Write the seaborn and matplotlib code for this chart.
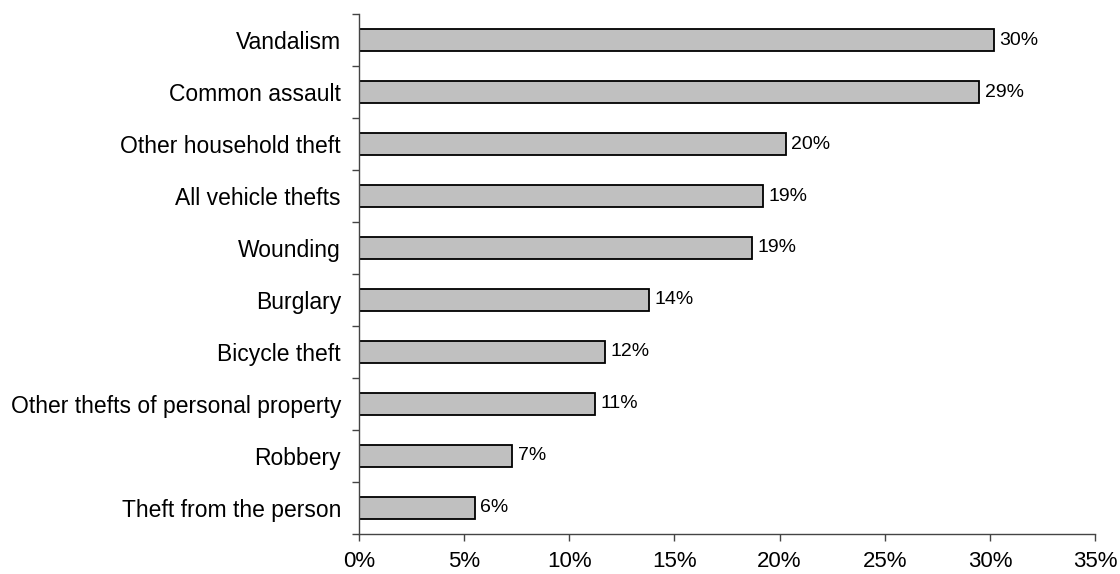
import numpy as np
import pandas as pd
import seaborn as sns
import matplotlib
matplotlib.use("Agg")
import matplotlib.pyplot as plt

categories = ["Vandalism", "Common assault", "Other household theft", "All vehicle thefts",
              "Wounding", "Burglary", "Bicycle theft", "Other thefts of personal property",
              "Robbery", "Theft from the person"]
values = [30.2, 29.5, 20.3, 19.2, 18.7, 13.8, 11.7, 11.2, 7.3, 5.5]
value_labels = ["30%", "29%", "20%", "19%", "19%", "14%", "12%", "11%", "7%", "6%"]
x_ticks = [0, 5, 10, 15, 20, 25, 30, 35]
x_tick_labels = ["0%", "5%", "10%", "15%", "20%", "25%", "30%", "35%"]

sns.set_theme(style="white")
plt.rcParams['font.family'] = ['Liberation Sans', 'DejaVu Sans']

df = pd.DataFrame({"category": categories, "value": values})

fig, ax = plt.subplots(figsize=(11.2, 5.74), dpi=100)
fig.subplots_adjust(left=0.3205, right=0.9777, bottom=0.0697, top=0.9756)

sns.barplot(data=df, x="value", y="category", orient="h", color="#c0c0c0",
            saturation=1, edgecolor="black", linewidth=1.3, width=0.42, ax=ax)

ax.bar_label(ax.containers[0], labels=value_labels, padding=4, fontsize=14, color="black")

ax.set_xlim(0, 35)
ax.set_ylim(9.5, -0.5)
ax.set_xticks(x_ticks)
ax.set_xticklabels(x_tick_labels, fontsize=16, color="black")
ax.set_yticks(range(len(categories)))
ax.set_yticklabels(categories, fontsize=16.5, color="black")
ax.set_yticks(np.arange(-0.5, len(categories), 1), minor=True)
ax.set_xlabel("")
ax.set_ylabel("")

ax.tick_params(axis="y", which="major", length=0, pad=13)
ax.tick_params(axis="y", which="minor", length=5, width=1, color="#444444", direction="out", left=True)
ax.tick_params(axis="x", which="major", length=5, width=1, color="#444444", direction="out", bottom=True, pad=7)

for s in ["top", "right"]:
    ax.spines[s].set_visible(False)
for s in ["left", "bottom"]:
    ax.spines[s].set_color("#444444")
    ax.spines[s].set_linewidth(1)

fig.savefig("out.png", dpi=100)
